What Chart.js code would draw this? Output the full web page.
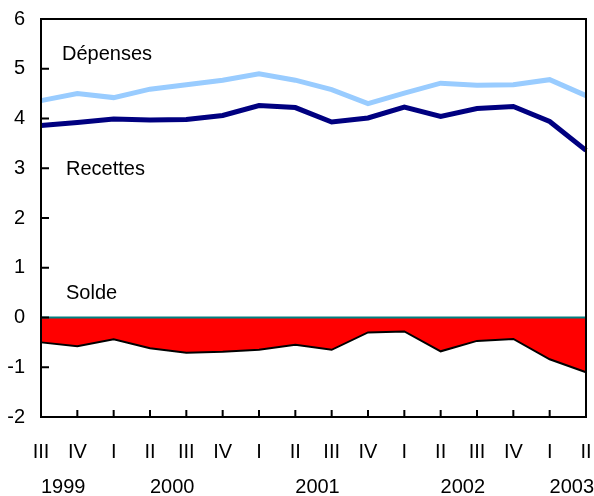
<!DOCTYPE html>
<html>
<head>
<meta charset="utf-8">
<script src="https://cdn.jsdelivr.net/npm/chart.js@4"></script>
<style>
  html, body { margin: 0; padding: 0; background: #fff; }
  #wrap { width: 594px; height: 496px; }
</style>
</head>
<body>
<div id="wrap"><canvas id="soldeChart"></canvas></div>
<script>
const quarters = ['III', 'IV', 'I', 'II', 'III', 'IV', 'I', 'II', 'III', 'IV', 'I', 'II', 'III', 'IV', 'I', 'II'];
const years = ['1999', '2000', '2001', '2002', '2003'];
// index range of quarters each year label sits under
const yearSpans = [[0, 1], [3, 4], [7, 8], [11, 12], [14, 15]];

const depenses = [4.36, 4.50, 4.42, 4.59, 4.68, 4.77, 4.90, 4.77, 4.58, 4.30, 4.51, 4.71, 4.67, 4.68, 4.78, 4.46];
const recettes = [3.86, 3.92, 3.99, 3.97, 3.98, 4.06, 4.26, 4.22, 3.93, 4.01, 4.23, 4.04, 4.20, 4.24, 3.94, 3.36];
const solde    = [-0.50, -0.58, -0.44, -0.62, -0.71, -0.69, -0.65, -0.55, -0.65, -0.30, -0.28, -0.68, -0.47, -0.43, -0.84, -1.10];

const yTicks = [-2, -1, 0, 1, 2, 3, 4, 5, 6];

const FAMILY = '"Liberation Sans", Arial, sans-serif';
const SIZE = 20;

const extras = {
    id: 'extras',
    afterDatasetsDraw(chart) {
        const {ctx, chartArea: a, scales: {x, y}} = chart;
        ctx.save();

        // zero line
        ctx.strokeStyle = '#008080';
        ctx.lineWidth = 2;
        ctx.beginPath();
        ctx.moveTo(a.left, y.getPixelForValue(0));
        ctx.lineTo(a.right, y.getPixelForValue(0));
        ctx.stroke();

        // frame
        ctx.strokeStyle = '#000';
        ctx.lineWidth = 2;
        ctx.strokeRect(a.left, a.top, a.right - a.left, a.bottom - a.top);

        // inward ticks
        ctx.beginPath();
        yTicks.forEach(v => {
            const py = y.getPixelForValue(v);
            ctx.moveTo(a.left, py);
            ctx.lineTo(a.left + 8, py);
        });
        quarters.forEach((q, i) => {
            const px = x.getPixelForValue(i);
            ctx.moveTo(px, a.bottom);
            ctx.lineTo(px, a.bottom - 7);
        });
        ctx.stroke();

        ctx.fillStyle = '#000';
        ctx.font = SIZE + 'px ' + FAMILY;

        // series names
        ctx.textAlign = 'left';
        ctx.textBaseline = 'alphabetic';
        const x0 = x.getPixelForValue(0);
        ctx.fillText('Dépenses', x0 + 21, y.getPixelForValue(5.18));
        ctx.fillText('Recettes', x0 + 25, y.getPixelForValue(2.87));
        ctx.fillText('Solde', x0 + 25, y.getPixelForValue(0.37));

        // year labels
        ctx.textAlign = 'center';
        ctx.textBaseline = 'middle';
        years.forEach((yr, k) => {
            const [i0, i1] = yearSpans[k];
            const px = (x.getPixelForValue(i0) + x.getPixelForValue(i1)) / 2 + 4;
            ctx.fillText(yr, px, a.bottom + 70);
        });

        ctx.restore();
    }
};

const noPad = s => { s.paddingLeft = 0; s.paddingRight = 0; s.paddingTop = 0; s.paddingBottom = 0; };

const ctx = document.getElementById('soldeChart').getContext('2d');
const soldeChart = new Chart(ctx, {
    type: 'line',
    data: {
        labels: quarters,
        datasets: [
            {
                label: 'Solde',
                data: solde,
                borderColor: '#000',
                borderWidth: 2,
                backgroundColor: '#ff0000',
                fill: 'origin',
                pointRadius: 0,
                tension: 0,
                order: 3
            },
            {
                label: 'Dépenses',
                data: depenses,
                borderColor: '#99ccff',
                borderWidth: 5,
                pointRadius: 0,
                tension: 0,
                fill: false,
                order: 2
            },
            {
                label: 'Recettes',
                data: recettes,
                borderColor: '#000080',
                borderWidth: 5,
                pointRadius: 0,
                tension: 0,
                fill: false,
                order: 1
            }
        ]
    },
    options: {
        responsive: true,
        maintainAspectRatio: false,
        animation: false,
        layout: { padding: { top: 19, right: 8, left: 0, bottom: 0 } },
        plugins: {
            legend: { display: false },
            tooltip: { enabled: false }
        },
        scales: {
            x: {
                type: 'category',
                offset: false,
                grid: { display: false, drawTicks: false },
                border: { display: false },
                ticks: {
                    color: '#000',
                    font: { family: FAMILY, size: SIZE },
                    maxRotation: 0,
                    autoSkip: false,
                    padding: 23
                },
                afterFit: s => { s.height = 79; noPad(s); }
            },
            y: {
                min: -2,
                max: 6,
                grid: { display: false, drawTicks: false },
                border: { display: false },
                ticks: {
                    stepSize: 1,
                    color: '#000',
                    font: { family: FAMILY, size: SIZE },
                    padding: 16
                },
                afterFit: s => { s.width = 41; noPad(s); }
            }
        }
    },
    plugins: [extras]
});
</script>
</body>
</html>
